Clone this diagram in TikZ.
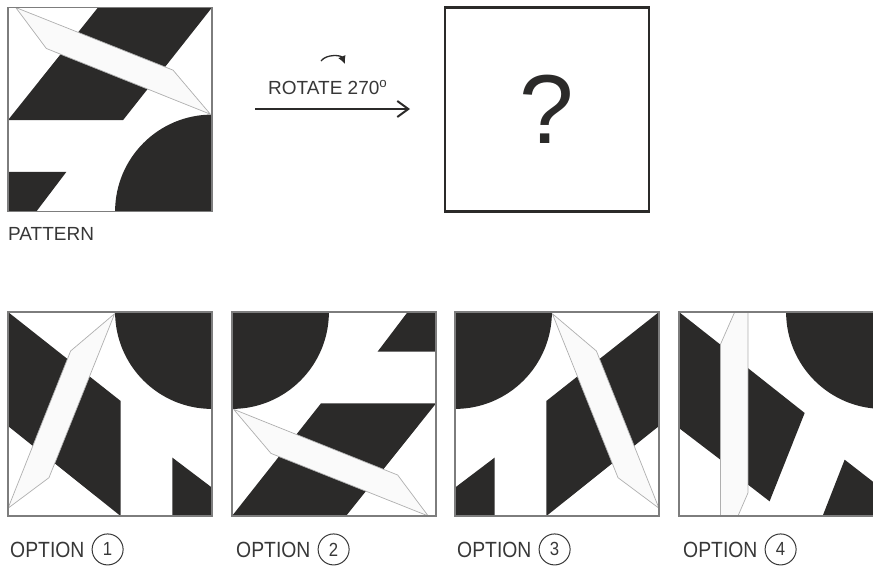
\documentclass[tikz,border=0pt]{standalone}
\usepackage{fontspec}
\setmainfont{Liberation Sans}
\usetikzlibrary{arrows.meta, positioning}
\definecolor{tiledark}{RGB}{43,42,41}
\definecolor{labelgray}{RGB}{55,55,55}
\definecolor{edgegray}{RGB}{125,125,125}
\definecolor{stripline}{RGB}{175,175,175}

% the pattern in a unit square, u to the right, v downwards
\newcommand{\patternart}{%
  \clip (0,0) rectangle (1,1);
  \fill[tiledark] (0.441,0) -- (1,0) -- (0.564,0.552) -- (0,0.552) -- cycle;
  \fill[tiledark] (0,0.806) -- (0.286,0.806) -- (0.139,1) -- (0,1) -- cycle;
  \fill[tiledark] (1,1) circle[radius=0.475];
  \filldraw[stripfill] (0.038,0) -- (0.809,0.307) -- (0.992,0.523) -- (0.188,0.201) -- cycle;
}
\newcommand{\narrow}[1]{\scalebox{0.88}[1]{#1}}

\begin{document}
\begin{tikzpicture}[x=1pt, y=-1pt,
    tilebox/.style={draw=edgegray, line width=1.2pt, minimum size=204pt, inner sep=0pt},
    stripfill/.style={fill=white!98!black, draw=stripline, line width=0.7pt, line join=round},
    captext/.style={font=\fontsize{19}{22}\selectfont, text=labelgray, inner sep=0pt},
    opttext/.style={font=\fontsize{22}{24}\selectfont, text=labelgray, inner sep=0pt},
    numcircle/.style={circle, draw=labelgray, line width=1pt, minimum size=31pt, inner sep=0pt,
                      font=\fontsize{19}{21}\selectfont, text=labelgray},
    mainarrow/.style={-{Straight Barb[length=11pt,width=16pt]}, line width=2pt, tiledark},
    turnarrow/.style={-{Latex[length=8pt,width=8pt]}, line width=1.3pt, tiledark},
]
    \useasboundingbox (0,0) rectangle (873,566);

    % pattern and question
    \begin{scope}[shift={(8,7.5)}, x=204pt, y=-204pt]
        \patternart
    \end{scope}
    \node[tilebox] (pattern) at (110,109.5) {};
    \node[captext, anchor=base west] (patternlabel) at (8,240) {PATTERN};

    \node[tilebox, draw=tiledark, line width=2.2pt, text=tiledark,
          font=\fontsize{98}{100}\selectfont] (qbox) at (547,109.5) {?};

    \coordinate (arrstart) at (255,109);
    \coordinate (arrend) at (410,109);
    \draw[mainarrow] (arrstart) -- (arrend);
    \node[captext, anchor=base west] (rotlabel) at (268,94) {ROTATE 270\textsuperscript{o}};
    \coordinate (turnA) at (321,61);
    \coordinate (turnB) at (345,64);
    \draw[turnarrow] (turnA) to[bend left=60] (turnB);

    % options
    \begin{scope}[shift={(8,312)}, x=204pt, y=-204pt, rotate around={90:(0.5,0.5)}]
        \patternart
    \end{scope}
    \begin{scope}[shift={(232,312)}, x=204pt, y=-204pt, rotate around={180:(0.5,0.5)}]
        \patternart
    \end{scope}
    \begin{scope}[shift={(659,312)}, x=-204pt, y=-204pt, rotate around={-90:(0.5,0.5)}]
        \patternart
    \end{scope}
    \begin{scope}[shift={(679,312)}, x=204pt, y=-204pt]
        \clip (0,0) rectangle (1,1);
        \fill[tiledark] (0,0) -- (0.203,0.16) -- (0.203,0.724) -- (0,0.569) -- cycle;
        \fill[tiledark] (0.338,0.275) -- (0.616,0.495) -- (0.444,0.928) -- (0.338,0.846) -- cycle;
        \fill[tiledark] (0.704,1) -- (0.812,0.724) -- (1,0.87) -- (1,1) -- cycle;
        \fill[tiledark] (1,0) circle[radius=0.475];
        \filldraw[stripfill] (0.273,0) -- (0.338,0) -- (0.338,0.887) -- (0.289,1)
            -- (0.203,1) -- (0.203,0.159) -- cycle;
    \end{scope}
    \node[tilebox] (opt1) at (110,414) {};
    \node[tilebox] (opt2) at (334,414) {};
    \node[tilebox] (opt3) at (557,414) {};
    \node[tilebox] (opt4) at (781,414) {};

    \node[opttext, anchor=base west] (optlabel1) at (10,557) {\narrow{OPTION}};
    \node[numcircle, right=7pt of optlabel1] (optnum1) {\narrow{1}};
    \node[opttext, anchor=base west] (optlabel2) at (236,557) {\narrow{OPTION}};
    \node[numcircle, right=7pt of optlabel2] (optnum2) {\narrow{2}};
    \node[opttext, anchor=base west] (optlabel3) at (457,557) {\narrow{OPTION}};
    \node[numcircle, right=7pt of optlabel3] (optnum3) {\narrow{3}};
    \node[opttext, anchor=base west] (optlabel4) at (683,557) {\narrow{OPTION}};
    \node[numcircle, right=7pt of optlabel4] (optnum4) {\narrow{4}};
\end{tikzpicture}
\end{document}
